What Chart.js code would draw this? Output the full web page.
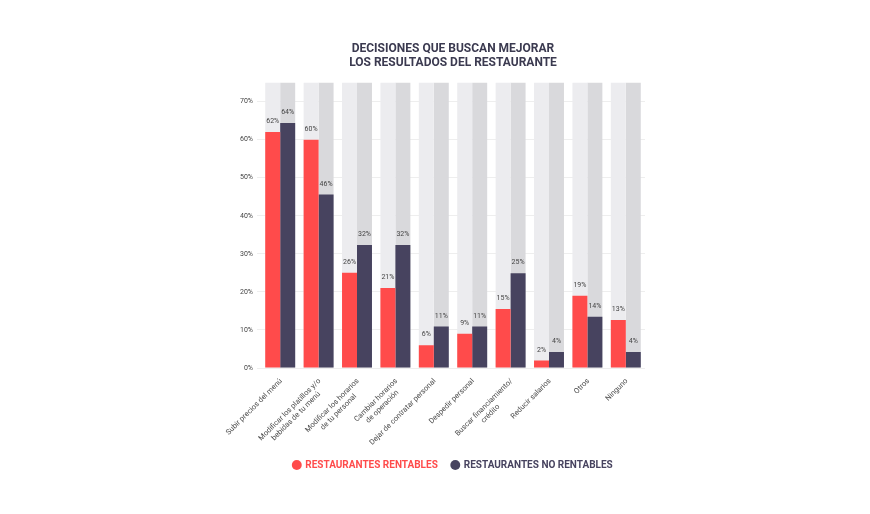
<!DOCTYPE html>
<html>
<head>
<meta charset="utf-8">
<script src="https://cdn.jsdelivr.net/npm/chart.js@4.4.1/dist/chart.umd.min.js"></script>
<style>
  body { margin: 0; background: #fff; }
  #wrap { width: 870px; height: 514px; }
</style>
</head>
<body>
<div id="wrap"><canvas id="grafico" width="870" height="514"></canvas></div>
<script>
// Datos
const categorias = [
    'Subir precios del menú',
    ['Modificar los platillos y/o', 'bebidas de tu menú'],
    ['Modificar los horarios', 'de tu personal'],
    ['Cambiar horarios', 'de operación'],
    'Dejar de contratar personal',
    'Despedir personal',
    ['Buscar financiamiento/', 'crédito'],
    'Reducir salarios',
    'Otros',
    'Ninguno'
];
const rentables = [62, 60, 25, 21, 6, 9, 15.5, 2, 19, 12.6];
const noRentables = [64.4, 45.6, 32.3, 32.3, 10.9, 10.9, 24.9, 4.2, 13.5, 4.2];
const etiquetasRentables = ['62%', '60%', '26%', '21%', '6%', '9%', '15%', '2%', '19%', '13%'];
const etiquetasNoRentables = ['64%', '46%', '32%', '32%', '11%', '11%', '25%', '4%', '14%', '4%'];
const fondo = [75, 75, 75, 75, 75, 75, 75, 75, 75, 75];
const ticksY = [0, 10, 20, 30, 40, 50, 60, 70];

const ROJO = '#ff4b4b';
const AZUL = '#47435f';

// Etiquetas de valor encima de cada barra
const etiquetasPlugin = {
    id: 'etiquetas',
    afterDatasetsDraw(chart) {
        const ctx = chart.ctx;
        ctx.save();
        ctx.font = '7px Roboto';
        ctx.fillStyle = '#444';
        ctx.textAlign = 'center';
        ctx.textBaseline = 'bottom';
        [[0, etiquetasRentables], [1, etiquetasNoRentables]].forEach(([i, textos]) => {
            chart.getDatasetMeta(i).data.forEach((bar, j) => {
                ctx.fillText(textos[j], bar.x, bar.y - 7);
            });
        });
        ctx.restore();
    }
};

// Etiquetas del eje X giradas 45°, con las líneas centradas entre sí
const ejeXPlugin = {
    id: 'ejeX',
    afterDraw(chart) {
        const ctx = chart.ctx;
        const x = chart.scales.x;
        ctx.save();
        ctx.font = '7.5px Roboto';
        ctx.fillStyle = '#4a4a4a';
        ctx.textAlign = 'center';
        ctx.textBaseline = 'middle';
        categorias.forEach((cat, i) => {
            const lineas = Array.isArray(cat) ? cat : [cat];
            const ancho = Math.max(...lineas.map(l => ctx.measureText(l).width));
            ctx.save();
            ctx.translate(x.getPixelForTick(i) + 1, x.top + 12);
            ctx.rotate(-Math.PI / 4);
            lineas.forEach((l, k) => ctx.fillText(l, -ancho / 2, k * 9));
            ctx.restore();
        });
        ctx.restore();
    }
};

new Chart(document.getElementById('grafico'), {
    type: 'bar',
    data: {
        labels: categorias,
        datasets: [
            { label: 'RESTAURANTES RENTABLES', data: rentables, backgroundColor: ROJO, order: 1, stack: 'a' },
            { label: 'RESTAURANTES NO RENTABLES', data: noRentables, backgroundColor: AZUL, order: 1, stack: 'b' },
            { label: 'fondo1', data: fondo, backgroundColor: '#ececef', order: 2, stack: 'a' },
            { label: 'fondo2', data: fondo, backgroundColor: '#d9d9dc', order: 2, stack: 'b' }
        ]
    },
    options: {
        responsive: false,
        animation: false,
        layout: { padding: { left: 237, right: 201, top: 42, bottom: 34 } },
        datasets: { bar: { categoryPercentage: 0.78, barPercentage: 1.0 } },
        scales: {
            x: {
                offset: true,
                afterFit(scale) { scale.height = 78; },
                grid: { display: false },
                border: { display: false },
                ticks: { display: false }
            },
            y: {
                stacked: false,
                min: 0,
                max: 75,
                afterFit(scale) { scale.width = 24; },
                afterBuildTicks(scale) { scale.ticks = ticksY.map(v => ({ value: v })); },
                border: { display: false },
                grid: { color: '#eeeeee', tickLength: 4, tickColor: '#eeeeee' },
                ticks: {
                    color: '#444',
                    font: { family: 'Roboto', size: 7 },
                    padding: 4,
                    callback: v => v + '%'
                }
            },
            // eje vacío a la derecha para centrar título y leyenda sobre el área del gráfico
            yDer: {
                position: 'right',
                stacked: false,
                min: 0,
                max: 75,
                afterFit(scale) { scale.width = 24; },
                border: { display: false },
                grid: { display: false },
                ticks: { display: false }
            }
        },
        plugins: {
            tooltip: { enabled: false },
            title: {
                display: true,
                text: ['DECISIONES QUE BUSCAN MEJORAR', 'LOS RESULTADOS DEL RESTAURANTE'],
                color: '#3b3a50',
                font: { family: 'Roboto', size: 12, weight: 'bold', lineHeight: 1.15 },
                padding: { top: 0, bottom: 13 }
            },
            legend: {
                position: 'bottom',
                labels: {
                    usePointStyle: true,
                    pointStyle: 'circle',
                    boxWidth: 7,
                    boxHeight: 7,
                    padding: 14,
                    font: { family: 'Roboto', size: 10, weight: 'bold' },
                    filter: item => item.datasetIndex < 2,
                    generateLabels(chart) {
                        const items = Chart.defaults.plugins.legend.labels.generateLabels(chart);
                        items.forEach(it => {
                            it.fontColor = it.datasetIndex === 0 ? ROJO : AZUL;
                            it.lineWidth = 0;
                        });
                        return items;
                    }
                }
            }
        }
    },
    plugins: [etiquetasPlugin, ejeXPlugin]
});
</script>
</body>
</html>
